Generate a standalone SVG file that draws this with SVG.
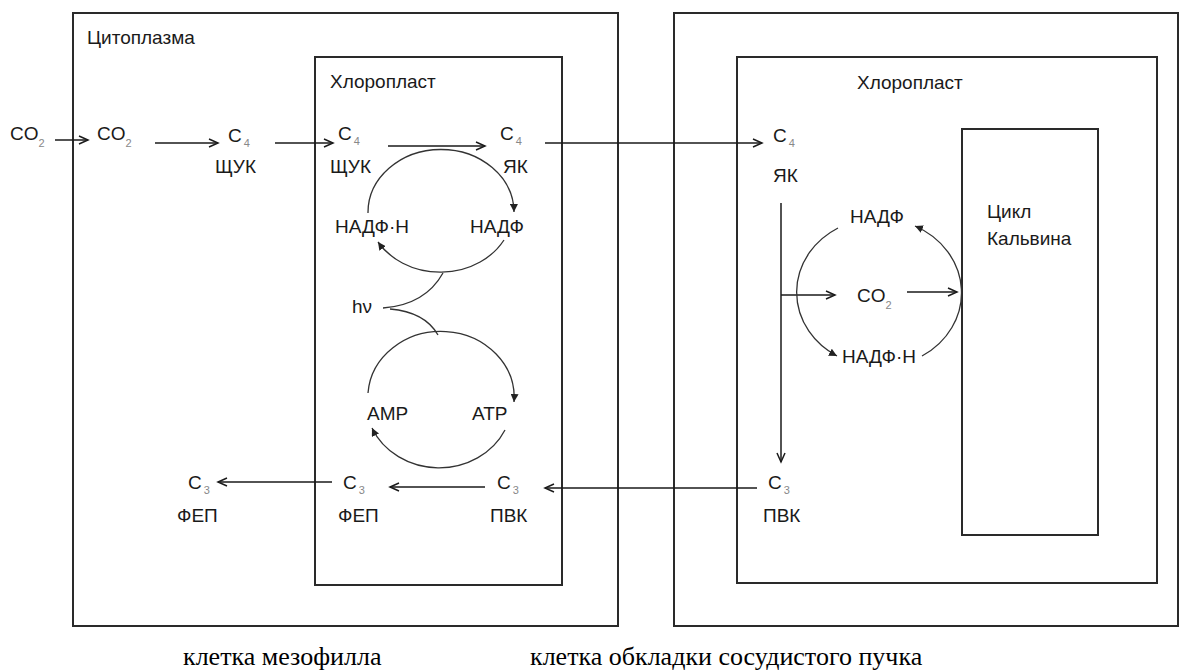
<svg xmlns="http://www.w3.org/2000/svg" width="1184" height="671" viewBox="0 0 1184 671">
<defs>
<style>
.box{fill:none;stroke:#2a2a2a;stroke-width:2}
.ln{fill:none;stroke:#1a1a1a;stroke-width:1.5}
.arc{fill:none;stroke:#333;stroke-width:1.3}
.t{font-family:"Liberation Sans","DejaVu Sans",sans-serif;font-size:19px;fill:#1a1a1a}
.sub{font-size:11px;fill:#888}
.cap{font-family:"Liberation Serif","DejaVu Serif",serif;font-size:26px;fill:#000}
</style>
<marker id="a" markerUnits="userSpaceOnUse" markerWidth="12" markerHeight="10" refX="10" refY="5" orient="auto"><path d="M1,1 L10,5 L1,9" fill="none" stroke="#1a1a1a" stroke-width="1.5"/></marker>
<marker id="b" markerUnits="userSpaceOnUse" markerWidth="9" markerHeight="8" refX="8" refY="4" orient="auto"><path d="M0,0 L8,4 L0,8 z" fill="#222"/></marker>
</defs>
<rect width="1184" height="671" fill="#fff"/>

<g id="mesophyll-cell">
<rect class="box" x="73" y="13" width="545" height="613"/>
<text class="t" x="87" y="44">Цитоплазма</text>
</g>
<g id="chloroplast-1">
<rect class="box" x="315" y="57" width="247" height="528"/>
<text class="t" x="330" y="88">Хлоропласт</text>
</g>
<g id="bundle-sheath-cell">
<rect class="box" x="674" y="13" width="504" height="613"/>
</g>
<g id="chloroplast-2">
<rect class="box" x="737" y="57" width="420" height="526"/>
<text class="t" x="857" y="89">Хлоропласт</text>
</g>
<g id="calvin-cycle">
<rect class="box" x="962" y="129" width="136" height="406"/>
<text class="t" x="987" y="218">Цикл</text>
<text class="t" x="987" y="245">Кальвина</text>
</g>

<g id="co2-out"><text class="t" x="10" y="140">CO<tspan class="sub" dy="7">2</tspan></text></g>
<g id="co2-cyt"><text class="t" x="97" y="140">CO<tspan class="sub" dy="7">2</tspan></text></g>
<g id="c4-shchuk-cyt"><text class="t" x="228" y="142">C<tspan class="sub" dx="2" dy="5">4</tspan></text><text class="t" x="215" y="173">ЩУК</text></g>
<g id="c4-shchuk-chl"><text class="t" x="338" y="140">C<tspan class="sub" dx="2" dy="5">4</tspan></text><text class="t" x="330" y="173">ЩУК</text></g>
<g id="c4-yak-chl"><text class="t" x="500" y="140">C<tspan class="sub" dx="2" dy="5">4</tspan></text><text class="t" x="503" y="173">ЯК</text></g>
<g id="nadph-1"><text class="t" x="335" y="233">НАДФ·Н</text></g>
<g id="nadp-1"><text class="t" x="470" y="233">НАДФ</text></g>
<g id="hv"><text class="t" x="352" y="313">hν</text></g>
<g id="amp"><text class="t" x="367" y="420">АМР</text></g>
<g id="atp"><text class="t" x="472" y="420">АТР</text></g>
<g id="c3-fep-chl"><text class="t" x="343" y="489">C<tspan class="sub" dx="2" dy="5">3</tspan></text><text class="t" x="338" y="522">ФЕП</text></g>
<g id="c3-pvk-chl"><text class="t" x="497" y="489">C<tspan class="sub" dx="2" dy="5">3</tspan></text><text class="t" x="490" y="522">ПВК</text></g>
<g id="c3-fep-cyt"><text class="t" x="188" y="489">C<tspan class="sub" dx="2" dy="5">3</tspan></text><text class="t" x="177" y="522">ФЕП</text></g>
<g id="c4-yak-bs"><text class="t" x="773" y="142">C<tspan class="sub" dx="2" dy="5">4</tspan></text><text class="t" x="773" y="182">ЯК</text></g>
<g id="nadp-2"><text class="t" x="850" y="223">НАДФ</text></g>
<g id="co2-bs"><text class="t" x="857" y="302">CO<tspan class="sub" dy="7">2</tspan></text></g>
<g id="nadph-2"><text class="t" x="842" y="363">НАДФ·Н</text></g>
<g id="c3-pvk-bs"><text class="t" x="768" y="489">C<tspan class="sub" dx="2" dy="5">3</tspan></text><text class="t" x="763" y="522">ПВК</text></g>

<g id="captions">
<text class="cap" x="183" y="665">клетка мезофилла</text>
<text class="cap" x="530" y="665">клетка обкладки сосудистого пучка</text>
</g>

<g id="connectors">
<path class="ln" d="M55,140 L88,140" marker-end="url(#a)"/>
<path class="ln" d="M155,143 L218,143" marker-end="url(#a)"/>
<path class="ln" d="M275,143 L333,143" marker-end="url(#a)"/>
<path class="ln" d="M388,146 L485,146" marker-end="url(#a)"/>
<path class="ln" d="M545,143 L762,143" marker-end="url(#a)"/>
<path class="ln" d="M781,203 L781,462" marker-end="url(#a)"/>
<path class="ln" d="M757,488 L545,488" marker-end="url(#a)"/>
<path class="ln" d="M485,487 L390,487" marker-end="url(#a)"/>
<path class="ln" d="M332,482 L218,482" marker-end="url(#a)"/>
<path class="ln" d="M781,295 L835,295" marker-end="url(#a)"/>
<path class="ln" d="M907,292 L957,292" marker-end="url(#a)"/>
<path class="arc" d="M368,213 A73,63 0 0 1 514,212" marker-end="url(#b)"/>
<path class="arc" d="M504,240 A73,63 0 0 1 378,242" marker-end="url(#b)"/>
<path class="arc" d="M383,308 Q425,305 443,273"/>
<path class="arc" d="M390,309 Q425,312 438,335"/>
<path class="arc" d="M368,393 A73,66 0 0 1 514,402" marker-end="url(#b)"/>
<path class="arc" d="M505,430 A73,66 0 0 1 372,428" marker-end="url(#b)"/>
<path class="arc" d="M838,228 A82,74 0 0 0 837,356" marker-end="url(#b)"/>
<path class="arc" d="M922,356 A82,74 0 0 0 915,226" marker-end="url(#b)"/>
</g>
</svg>
